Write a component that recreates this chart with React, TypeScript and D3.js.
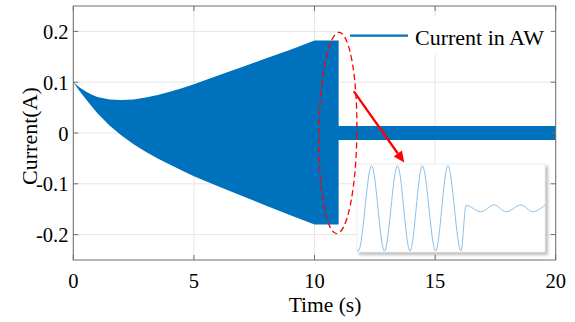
import * as d3 from 'd3';

// envelope of the AW current (fast oscillation drawn as a filled band)
const envT     = [0, 0.25, 0.5, 0.75, 1, 1.5, 2, 2.5, 3, 3.5, 4, 4.5, 5, 6, 7, 8, 9, 10, 11, 11, 20];
const envUpper = [0.1, 0.09, 0.082, 0.076, 0.071, 0.066, 0.065, 0.066, 0.07, 0.075, 0.081, 0.088, 0.096, 0.113, 0.13, 0.147, 0.164, 0.182, 0.182, 0.014, 0.014];
const envLower = [0.1, 0.083, 0.068, 0.053, 0.039, 0.015, -0.005, -0.022, -0.037, -0.05, -0.062, -0.074, -0.085, -0.105, -0.124, -0.143, -0.162, -0.18, -0.18, -0.014, -0.014];

// inset: zoomed waveform around the switching instant (extrema, normalised)
const insetT = [0, 0.05, 0.57, 1.07, 1.58, 2.07, 2.55, 3.07, 3.55, 4.06, 4.26, 4.83, 5.36, 5.82, 6.41, 6.86, 7.34];
const insetV = [-0.97, -1, 1, -1, 1, -1, 1, -1, 1, -1, 0.07, -0.08, 0.08, -0.08, 0.08, -0.08, 0.08];

const xTicks = [0, 5, 10, 15, 20];
const yTicks = [-0.2, -0.1, 0, 0.1, 0.2];
const seriesName = 'Current in AW';

const W = 575, H = 322;
const M = { left: 73.3, right: 555.7, top: 6, bottom: 260 };
const FONT = '"Liberation Serif", "Times New Roman", serif';
const BLUE = '#0072BD';

export default function App() {
  const x = d3.scaleLinear().domain([0, 20]).range([M.left, M.right]);
  const y = d3.scaleLinear().domain([-0.25, 0.25]).range([M.bottom, M.top]);

  const env = envT.map((t, i) => ({ t, hi: envUpper[i], lo: envLower[i] }));
  const area = d3.area<typeof env[0]>()
    .x(d => x(d.t))
    .y0(d => y(d.lo))
    .y1(d => y(d.hi));

  // inset box
  const ib = { x: 357, y: 164, w: 188, h: 88 };
  const ix = d3.scaleLinear().domain([0, 7.34]).range([ib.x, ib.x + ib.w]);
  const iy = d3.scaleLinear().domain([-1, 1]).range([ib.y + 87, ib.y + 1.7]);
  const inset = insetT.map((t, i) => [t, insetV[i]] as [number, number]);
  const insetLine = d3.line<[number, number]>()
    .x(d => ix(d[0]))
    .y(d => iy(d[1]))
    .curve(d3.curveMonotoneX);

  // ellipse + arrow in data coords
  const ecx = x(10.97), ecy = y(0.0);
  const erx = 19, ery = y(0) - y(0.198);
  const a0 = [x(11.63), y(0.082)];
  const a1 = [x(13.72), y(-0.058)];
  const ang = Math.atan2(a1[1] - a0[1], a1[0] - a0[0]);
  const hl = 11, hw = 5;
  const bx = a1[0] - hl * Math.cos(ang), by = a1[1] - hl * Math.sin(ang);
  const head = [
    [a1[0], a1[1]],
    [bx + hw * Math.sin(ang), by - hw * Math.cos(ang)],
    [bx - hw * Math.sin(ang), by + hw * Math.cos(ang)],
  ].map(p => p.join(',')).join(' ');

  return (
    <div style={{ position: 'absolute', left: 0, top: 0 }}>
      <svg width={W} height={H} style={{ display: 'block', background: '#fff' }}>
        <defs>
          <filter id="sh" x="-10%" y="-10%" width="130%" height="130%">
            <feGaussianBlur stdDeviation="1.6" />
          </filter>
        </defs>
        {/* grid */}
        {xTicks.map(t => (
          <line key={'gx' + t} x1={x(t)} x2={x(t)} y1={M.top} y2={M.bottom} stroke="#e6e6e6" strokeWidth={1} />
        ))}
        {yTicks.map(t => (
          <line key={'gy' + t} x1={M.left} x2={M.right} y1={y(t)} y2={y(t)} stroke="#e6e6e6" strokeWidth={1} />
        ))}

        <path d={area(env) ?? ''} fill={BLUE} />

        {/* legend background */}
        <rect x={341} y={16} width={212} height={38} fill="#fff" />
        <line x1={350} x2={408} y1={35.7} y2={35.7} stroke={BLUE} strokeWidth={2.2} />
        <text x={415} y={44.5} fontFamily={FONT} fontSize={22} fill="#000">{seriesName}</text>

        {/* inset */}
        <rect x={ib.x + 2} y={ib.y + 2} width={ib.w + 1} height={ib.h + 1} fill="#bdbdbd" filter="url(#sh)" />
        <rect x={ib.x} y={ib.y} width={ib.w} height={ib.h} fill="#fff" stroke="#eeeeee" strokeWidth={1} />
        <path d={insetLine(inset) ?? ''} fill="none" stroke="#8cc0e6" strokeWidth={1} />

        {/* annotations */}
        <ellipse cx={ecx} cy={ecy} rx={erx} ry={ery} fill="none" stroke="#ff0000" strokeWidth={1.3}
          strokeDasharray="6,3.5" transform={`rotate(0.7 ${ecx} ${ecy})`} />
        <line x1={a0[0]} y1={a0[1]} x2={bx} y2={by} stroke="#ff0000" strokeWidth={2.3} />
        <polygon points={head} fill="#ff0000" />

        {/* axes box + ticks */}
        <rect x={M.left} y={M.top} width={M.right - M.left} height={M.bottom - M.top} fill="none" stroke="#6e6e6e" strokeWidth={1} />
        {xTicks.map(t => (
          <g key={'tx' + t}>
            <line x1={x(t)} x2={x(t)} y1={M.bottom} y2={M.bottom - 5} stroke="#6e6e6e" />
            <line x1={x(t)} x2={x(t)} y1={M.top} y2={M.top + 5} stroke="#6e6e6e" />
            <text x={x(t)} y={288} textAnchor="middle" fontFamily={FONT} fontSize={20.5} fill="#000">{t}</text>
          </g>
        ))}
        {yTicks.map(t => (
          <g key={'ty' + t}>
            <line x1={M.left} x2={M.left + 5} y1={y(t)} y2={y(t)} stroke="#6e6e6e" />
            <line x1={M.right} x2={M.right - 5} y1={y(t)} y2={y(t)} stroke="#6e6e6e" />
            <text x={68.5} y={y(t) + 7.5} textAnchor="end" fontFamily={FONT} fontSize={20.5} fill="#000">{String(t)}</text>
          </g>
        ))}

        <text x={325} y={312} textAnchor="middle" fontFamily={FONT} fontSize={21.5} fill="#000">Time (s)</text>
        <text transform="translate(36.5,136) rotate(-90)" textAnchor="middle"
          fontFamily={FONT} fontSize={22} fill="#000">Current(A)</text>
      </svg>
    </div>
  );
}
